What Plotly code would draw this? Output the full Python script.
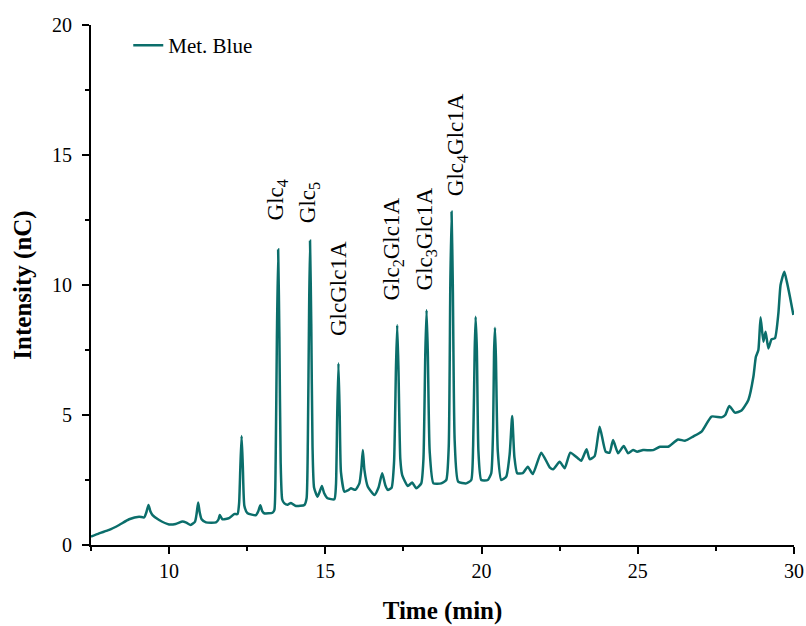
import plotly.graph_objects as go

time_min = [7.50, 7.76, 8.08, 8.40, 8.72, 9.04, 9.20, 9.27, 9.34, 9.40, 9.47, 9.68, 10.00, 10.21, 10.43, 10.55,
            10.69, 10.83, 10.88, 10.93, 10.98, 11.04, 11.18, 11.50, 11.58, 11.62, 11.71, 11.92, 12.08, 12.19,
            12.24, 12.28, 12.32, 12.36, 12.41, 12.51, 12.78, 12.86, 12.92, 12.98, 13.04, 13.31, 13.37, 13.41,
            13.45, 13.49, 13.53, 13.57, 13.62, 13.69, 13.80, 13.90, 14.06, 14.33, 14.40, 14.44, 14.48, 14.51,
            14.55, 14.59, 14.64, 14.75, 14.82, 14.89, 14.96, 15.07, 15.29, 15.34, 15.38, 15.42, 15.46, 15.50,
            15.61, 15.72, 15.82, 15.96, 16.09, 16.15, 16.20, 16.25, 16.36, 16.57, 16.70, 16.82, 16.92, 17.00,
            17.12, 17.20, 17.26, 17.30, 17.34, 17.40, 17.46, 17.64, 17.78, 17.91, 18.07, 18.14, 18.20, 18.24,
            18.28, 18.34, 18.46, 18.71, 18.87, 18.95, 19.00, 19.04, 19.08, 19.14, 19.25, 19.51, 19.67, 19.73,
            19.78, 19.81, 19.85, 19.90, 19.99, 20.20, 20.31, 20.37, 20.40, 20.43, 20.46, 20.52, 20.63, 20.79,
            20.90, 20.98, 21.05, 21.14, 21.32, 21.48, 21.64, 21.91, 22.18, 22.29, 22.50, 22.66, 22.84, 23.09,
            23.19, 23.36, 23.46, 23.62, 23.78, 23.97, 24.10, 24.21, 24.37, 24.55, 24.69, 24.85, 24.98, 25.17,
            25.49, 25.71, 25.97, 26.29, 26.51, 26.77, 27.04, 27.36, 27.68, 27.80, 27.93, 28.11, 28.32, 28.54,
            28.70, 28.78, 28.86, 28.93, 29.02, 29.09, 29.18, 29.28, 29.39, 29.50, 29.57, 29.69, 29.77, 29.87,
            29.98]
intensity_nc = [0.32, 0.45, 0.58, 0.77, 0.99, 1.09, 1.06, 1.25, 1.54, 1.30, 1.15, 0.96, 0.79, 0.81, 0.90, 0.86,
                0.77, 0.90, 1.20, 1.63, 1.25, 0.99, 0.87, 0.87, 0.98, 1.15, 0.99, 1.03, 1.19, 1.19,
                1.60, 3.00, 4.19, 3.00, 1.50, 1.22, 1.15, 1.32, 1.53, 1.30, 1.22, 1.24, 1.35, 3.20,
                8.00, 11.37, 8.00, 3.20, 1.75, 1.60, 1.55, 1.62, 1.50, 1.54, 1.80, 4.00, 9.00, 11.70,
                8.50, 3.80, 2.20, 1.86, 2.05, 2.27, 2.00, 1.80, 1.76, 2.30, 5.00, 6.99, 5.00, 2.80,
                2.05, 2.10, 2.18, 2.12, 2.37, 2.90, 3.65, 2.90, 2.24, 1.92, 2.20, 2.76, 2.30, 2.12,
                2.20, 3.20, 6.80, 8.46, 6.80, 3.30, 2.69, 2.27, 2.40, 2.18, 2.37, 3.30, 7.40, 9.04,
                7.40, 3.60, 2.37, 2.37, 2.50, 3.80, 10.00, 12.82, 10.00, 4.00, 2.44, 2.37, 2.50, 3.80,
                7.50, 8.78, 7.50, 3.60, 2.50, 2.50, 2.76, 4.50, 7.40, 8.36, 7.20, 3.60, 2.50, 2.63,
                3.50, 4.96, 3.40, 2.76, 2.76, 3.01, 2.73, 3.55, 2.99, 2.91, 3.20, 2.95, 3.55, 3.33,
                3.24, 3.68, 3.30, 3.42, 4.55, 3.59, 3.55, 4.04, 3.53, 3.81, 3.53, 3.65, 3.59, 3.65,
                3.65, 3.78, 3.78, 4.06, 4.01, 4.17, 4.36, 4.94, 4.91, 5.00, 5.35, 5.09, 5.17, 5.58,
                6.47, 7.24, 7.50, 8.76, 7.82, 8.20, 7.56, 7.91, 7.95, 8.91, 10.00, 10.51, 10.13, 9.55,
                8.85]

peak_labels = ["Glc<sub>4</sub>", "Glc<sub>5</sub>", "GlcGlc1A", "Glc<sub>2</sub>Glc1A",
               "Glc<sub>3</sub>Glc1A", "Glc<sub>4</sub>Glc1A"]
label_time = [13.45, 14.50, 15.42, 17.17, 18.22, 19.24]
label_base = [12.42, 12.31, 7.96, 9.31, 9.73, 13.35]

series_name = "Met. Blue"
x_ticks = [10, 15, 20, 25, 30]
y_ticks = [0, 5, 10, 15, 20]

LINE = "#0b6e6b"
FONT = "Liberation Serif"

fig = go.Figure()
fig.add_trace(go.Scatter(x=time_min, y=intensity_nc, mode="lines", name=series_name,
                         line=dict(color=LINE, width=2.5, shape="spline", smoothing=0.5)))

for lab, t, b in zip(peak_labels, label_time, label_base):
    fig.add_annotation(x=t, y=b, text=lab, textangle=-90, showarrow=False,
                       xanchor="center", yanchor="bottom",
                       font=dict(family=FONT, size=23, color="black"))

axis_common = dict(showline=True, linecolor="black", linewidth=2, ticks="outside", ticklen=7,
                   tickwidth=2, tickcolor="black", showgrid=False, zeroline=False,
                   tickfont=dict(family=FONT, size=20, color="black"),
                   minor=dict(ticks="outside", ticklen=4, tickwidth=2, tickcolor="black", dtick=2.5, tick0=0))

fig.update_xaxes(range=[7.5, 30], tickvals=x_ticks, **axis_common,
                 title=dict(text="<b>Time (min)</b>", font=dict(family=FONT, size=25, color="black"), standoff=20))
fig.update_yaxes(range=[0, 20], tickvals=y_ticks, ticklabelstandoff=6, **axis_common,
                 title=dict(text="<b>Intensity (nC)</b>", font=dict(family=FONT, size=25, color="black"), standoff=13))

fig.update_layout(width=806, height=626, margin=dict(l=91, r=12, t=25, b=81, autoexpand=False),
                  plot_bgcolor="white", paper_bgcolor="white",
                  showlegend=True,
                  legend=dict(x=0.053, y=1.0, xanchor="left", yanchor="top", bgcolor="rgba(0,0,0,0)",
                              font=dict(family=FONT, size=21, color="black")))

fig.write_html("out.html")
